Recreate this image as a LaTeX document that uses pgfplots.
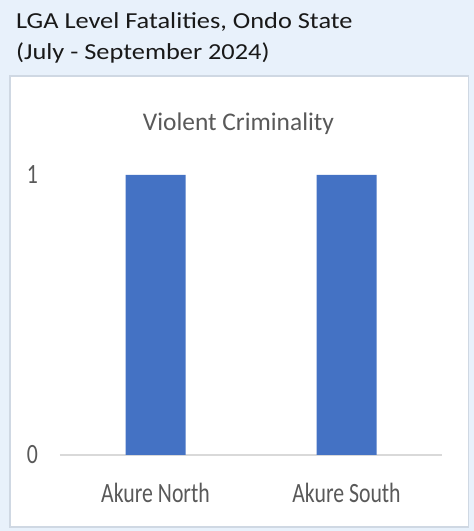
\documentclass[border=0pt]{standalone}
\usepackage{fontspec}
\setmainfont{Carlito}
\newfontfamily\headfont[FakeStretch=1.15]{Carlito}
\newfontfamily\tickfont[FakeStretch=0.78]{Carlito}
\usepackage{pgfplots}
\pgfplotsset{compat=1.18}
\definecolor{bgblue}{HTML}{E8F1FB}
\definecolor{panelborder}{HTML}{CFD8E3}
\definecolor{barblue}{HTML}{4472C4}
\definecolor{txtgray}{HTML}{595959}
\definecolor{axgray}{HTML}{D9D9D9}
\begin{document}
\begin{tikzpicture}
\useasboundingbox (0bp,0bp) rectangle (474bp,531bp);
\fill[bgblue] (0bp,0bp) rectangle (474bp,531bp);
\filldraw[fill=white, draw=panelborder, line width=1.2bp] (10bp,4bp) rectangle (468.5bp,455bp);
\node[anchor=base west, inner sep=0pt, text=black!90] at (16bp,502.5bp) {\headfont\fontsize{23}{28}\selectfont LGA Level Fatalities, Ondo State};
\node[anchor=base west, inner sep=0pt, text=black!90] at (16bp,471bp) {\headfont\fontsize{23}{28}\selectfont (July - September 2024)};
\node[anchor=base, inner sep=0pt, text=txtgray] at (238.5bp,400bp) {\fontsize{25.5}{30}\selectfont Violent Criminality};
\begin{axis}[
  at={(60bp,76bp)}, anchor=south west,
  scale only axis, width=382bp, height=280bp,
  xmin=-0.5, xmax=1.5, ymin=0, ymax=1,
  axis x line*=bottom, axis y line*=left,
  x axis line style={draw=axgray, line width=1.5bp, -},
  y axis line style={draw=none},
  major tick length=0pt,
  xtick={0,1}, xticklabels={Akure North, Akure South},
  ytick={0,1},
  /pgf/number format/assume math mode=true,
  ticklabel style={font=\tickfont\fontsize{28}{32}\selectfont, text=txtgray, inner sep=0pt},
  xticklabel style={anchor=base},
  xticklabel shift=47bp,
  yticklabel style={anchor=east},
  yticklabel shift=22bp,
  ybar, bar width=60bp,
  clip=false,
]
\addplot[fill=barblue, draw=none] coordinates {(0,1) (1,1)};
\end{axis}
\end{tikzpicture}
\end{document}
